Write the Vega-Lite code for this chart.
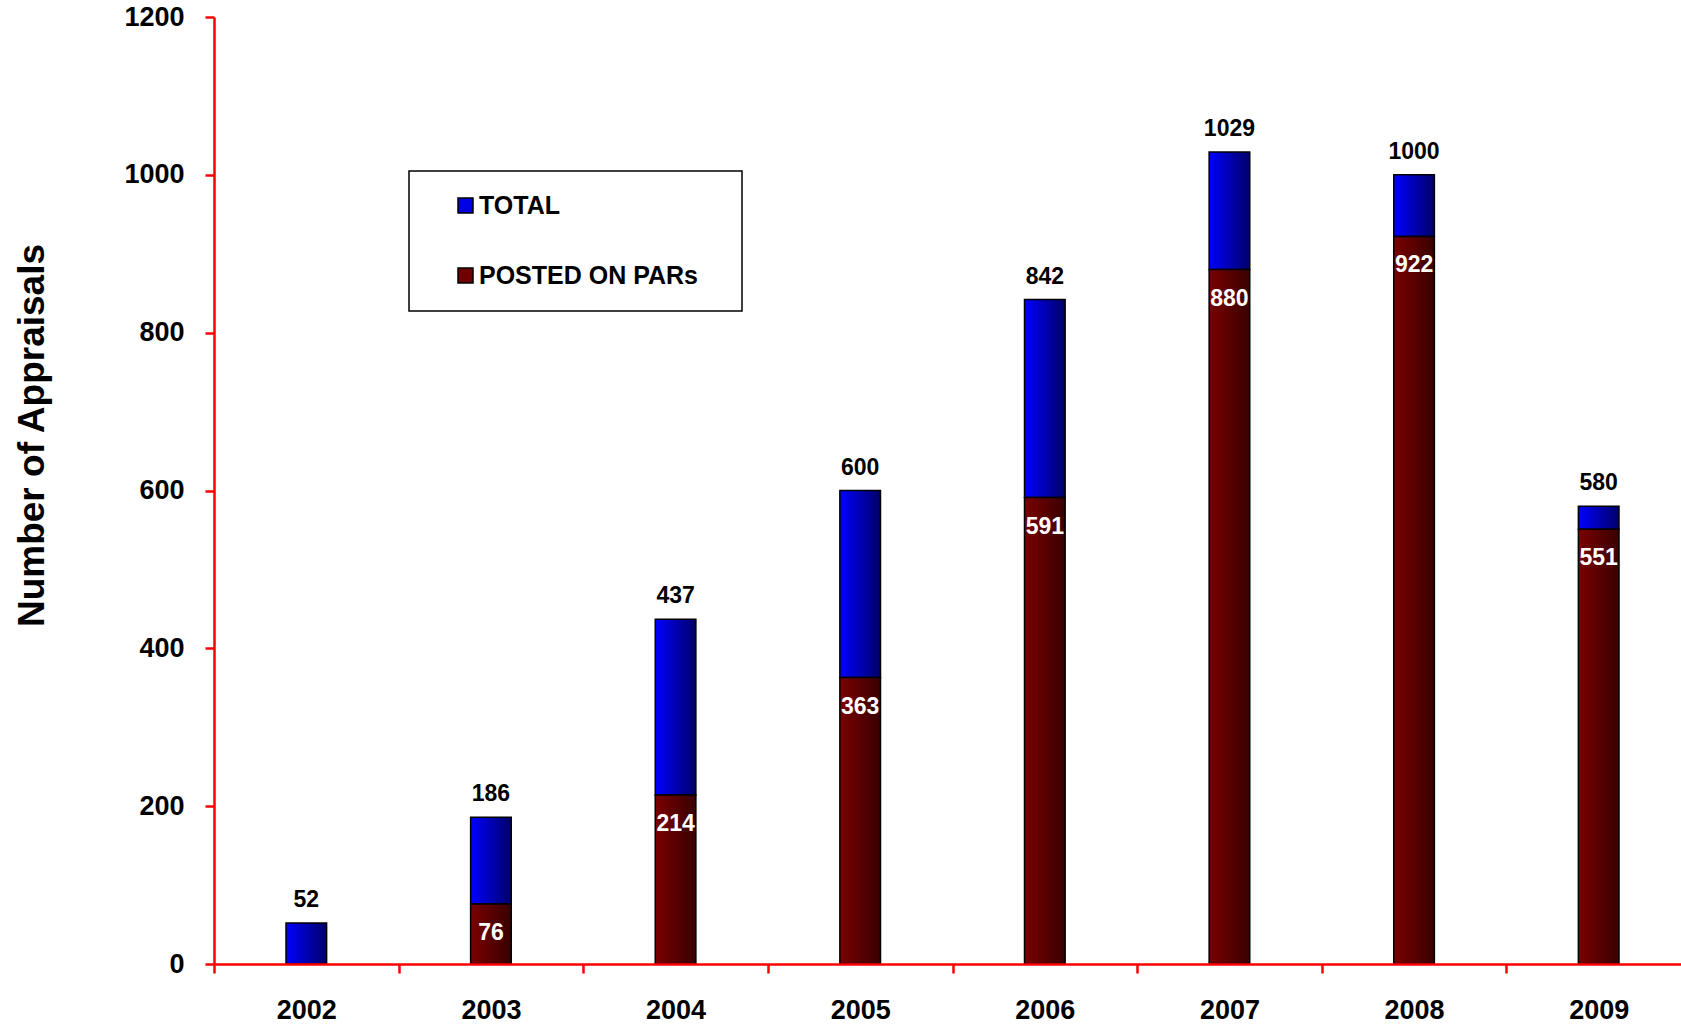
{
  "$schema": "https://vega.github.io/schema/vega-lite/v6.json",
  "autosize": "none",
  "padding": {"left": 214, "top": 17, "right": 0, "bottom": 63},
  "width": 1477,
  "height": 947,
  "background": "white",
  "data": {
    "values": [
      {"year": "2002", "total": 52, "posted": 0},
      {"year": "2003", "total": 186, "posted": 76},
      {"year": "2004", "total": 437, "posted": 214},
      {"year": "2005", "total": 600, "posted": 363},
      {"year": "2006", "total": 842, "posted": 591},
      {"year": "2007", "total": 1029, "posted": 880},
      {"year": "2008", "total": 1000, "posted": 922},
      {"year": "2009", "total": 580, "posted": 551}
    ]
  },
  "encoding": {
    "x": {
      "field": "year",
      "type": "nominal",
      "scale": {"paddingInner": 0, "paddingOuter": 0},
      "axis": {
        "title": null,
        "labelAngle": 0,
        "tickBand": "extent",
        "labelPadding": 24,
        "zindex": 1
      }
    }
  },
  "layer": [
    {
      "mark": {"type": "bar", "width": {"band": 0.22}},
      "encoding": {
        "y": {
          "field": "total",
          "type": "quantitative",
          "scale": {"domain": [0, 1200], "nice": false},
          "axis": {
            "title": "Number of Appraisals",
            "values": [0, 200, 400, 600, 800, 1000, 1200],
            "grid": false,
            "format": "d",
            "labelPadding": 21,
            "titleX": -171,
            "titleY": 418,
            "titleAngle": 270,
            "titleAlign": "center",
            "titleBaseline": "alphabetic",
            "titleFont": "Liberation Sans",
            "titleFontSize": 37,
            "titleFontWeight": "bold",
            "titleColor": "black"
          }
        },
        "y2": {"field": "posted"},
        "color": {
          "datum": "TOTAL",
          "scale": {"domain": ["TOTAL", "POSTED ON PARs"], "range": ["#0000e6", "#700000"]},
          "legend": {
            "title": " ",
            "titleOrient": "right",
            "titlePadding": 22,
            "orient": "none",
            "legendX": 195,
            "legendY": 154,
            "symbolType": "square",
            "symbolSize": 225,
            "symbolStrokeColor": "black",
            "symbolStrokeWidth": 1.5,
            "symbolOffset": 22,
            "labelOffset": 1,
            "labelFont": "Liberation Sans",
            "labelFontWeight": "bold",
            "labelFontSize": 25,
            "labelColor": "black",
            "labelLimit": 400,
            "rowPadding": 44,
            "padding": 22,
            "strokeColor": "black",
            "fillColor": "white"
          }
        }
      }
    },
    {
      "mark": {"type": "bar", "width": {"band": 0.22}},
      "encoding": {
        "y": {"field": "posted", "type": "quantitative"},
        "color": {"datum": "POSTED ON PARs"}
      }
    },
    {
      "mark": {
        "type": "bar",
        "width": {"band": 0.22},
        "fill": {
          "gradient": "linear",
          "x1": 0, "y1": 0, "x2": 1, "y2": 0,
          "stops": [
            {"offset": 0, "color": "#0000ff"},
            {"offset": 1, "color": "#000068"}
          ]
        },
        "stroke": "black",
        "strokeWidth": 1.5
      },
      "encoding": {
        "y": {"field": "total", "type": "quantitative"},
        "y2": {"field": "posted"}
      }
    },
    {
      "mark": {
        "type": "bar",
        "width": {"band": 0.22},
        "fill": {
          "gradient": "linear",
          "x1": 0, "y1": 0, "x2": 1, "y2": 0,
          "stops": [
            {"offset": 0, "color": "#7a0000"},
            {"offset": 1, "color": "#380000"}
          ]
        },
        "stroke": "black",
        "strokeWidth": 1.5
      },
      "encoding": {
        "y": {"field": "posted", "type": "quantitative"}
      }
    },
    {
      "mark": {
        "type": "text",
        "baseline": "alphabetic",
        "dy": -16,
        "font": "Liberation Sans",
        "fontSize": 23,
        "fontWeight": "bold",
        "color": "black"
      },
      "encoding": {
        "y": {"field": "total", "type": "quantitative"},
        "text": {"field": "total", "type": "quantitative", "format": "d"}
      }
    },
    {
      "transform": [{"filter": "datum.posted > 0"}],
      "mark": {
        "type": "text",
        "baseline": "middle",
        "dy": 29,
        "font": "Liberation Sans",
        "fontSize": 23,
        "fontWeight": "bold",
        "color": "white"
      },
      "encoding": {
        "y": {"field": "posted", "type": "quantitative"},
        "text": {"field": "posted", "type": "quantitative", "format": "d"}
      }
    }
  ],
  "config": {
    "view": {"stroke": null},
    "legend": {"strokeWidth": 1.5},
    "axis": {
      "domainColor": "red",
      "domainWidth": 2.5,
      "tickColor": "red",
      "tickWidth": 2.5,
      "tickSize": 9,
      "labelFont": "Liberation Sans",
      "labelFontSize": 27,
      "labelFontWeight": "bold",
      "labelColor": "black"
    }
  }
}
